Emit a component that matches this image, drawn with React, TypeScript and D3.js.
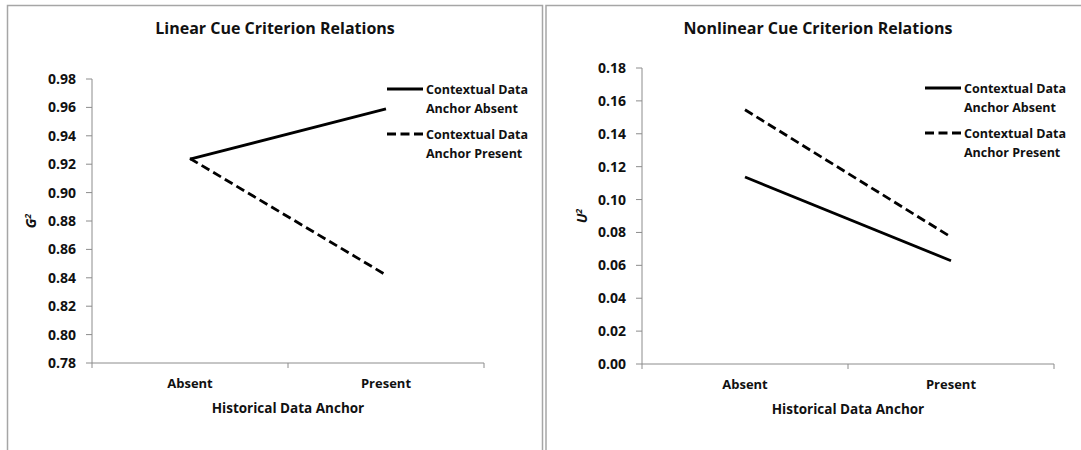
import * as d3 from 'd3';

const categories = ['Absent', 'Present'];
const seriesNames = ['Contextual Data Anchor Absent', 'Contextual Data Anchor Present'];

// linear panel (G²)
const linearAbsent = [0.9235, 0.959];
const linearPresent = [0.924, 0.842];
const linearTicks = [0.78, 0.80, 0.82, 0.84, 0.86, 0.88, 0.90, 0.92, 0.94, 0.96, 0.98];

// nonlinear panel (U²)
const nonlinearAbsent = [0.1137, 0.0628];
const nonlinearPresent = [0.1546, 0.0772];
const nonlinearTicks = [0, 0.02, 0.04, 0.06, 0.08, 0.10, 0.12, 0.14, 0.16, 0.18];

const FONT = '"Open Sans", Lato, sans-serif';
const DASH = '9,4.5';

interface PanelProps {
    x0: number;
    title: string;
    yLabel: string;
    ticks: number[];
    absent: number[];
    present: number[];
    plot: { left: number; right: number; top: number; bottom: number };
    legendX: number;
    legendY: number;
    titleX: number;
    yLabelX: number;
}

function Panel({ x0, title, yLabel, ticks, absent, present, plot, legendX, legendY, titleX, yLabelX }: PanelProps) {
    const xScale = d3.scaleBand<string>()
        .domain(categories)
        .range([plot.left, plot.right]);

    const yScale = d3.scaleLinear()
        .domain(d3.extent(ticks) as [number, number])
        .range([plot.bottom, plot.top]);

    const line = d3.line<number>()
        .x((_, i) => (xScale(categories[i]) as number) + xScale.bandwidth() / 2)
        .y(d => yScale(d));

    const catEdges = [plot.left, ...categories.map(c => (xScale(c) as number) + xScale.bandwidth())];

    return (
        <g transform={`translate(${x0},0)`}>
            <text x={titleX} y={34} textAnchor="middle" fontSize={16} fontWeight="bold" fill="#111">{title}</text>

            {/* y axis */}
            <line x1={plot.left} x2={plot.left} y1={plot.top} y2={plot.bottom} stroke="#8c8c8c" />
            {ticks.map(t => (
                <g key={t}>
                    <line x1={plot.left - 6} x2={plot.left} y1={yScale(t)} y2={yScale(t)} stroke="#8c8c8c" />
                    <text x={plot.left - 16} y={yScale(t)} dy="0.36em" textAnchor="end" fontSize={14} fontWeight="bold" fill="#111">
                        {t.toFixed(2)}
                    </text>
                </g>
            ))}
            <text transform={`translate(${yLabelX},${(plot.top + plot.bottom) / 2}) rotate(-90)`} textAnchor="middle" fontSize={14} fontWeight="bold" fontStyle="italic" fill="#111">
                {yLabel}<tspan fontSize={9} dy={-5}>2</tspan>
            </text>

            {/* x axis */}
            <line x1={plot.left} x2={plot.right} y1={plot.bottom} y2={plot.bottom} stroke="#8c8c8c" />
            {catEdges.map((e, i) => (
                <line key={i} x1={e} x2={e} y1={plot.bottom} y2={plot.bottom + 5} stroke="#8c8c8c" />
            ))}
            {categories.map(c => (
                <text key={c} x={(xScale(c) as number) + xScale.bandwidth() / 2} y={plot.bottom + 25} textAnchor="middle" fontSize={13} fontWeight="bold" fill="#111">{c}</text>
            ))}
            <text x={(plot.left + plot.right) / 2} y={plot.bottom + 50} textAnchor="middle" fontSize={13.5} fontWeight="bold" fill="#111">Historical Data Anchor</text>

            {/* series */}
            <path d={line(absent) as string} fill="none" stroke="#000" strokeWidth={2.8} />
            <path d={line(present) as string} fill="none" stroke="#000" strokeWidth={2.8} strokeDasharray={DASH} />

            {/* legend */}
            {seriesNames.map((name, i) => {
                const ly = legendY + i * 45;
                const words = name.split(' ');
                return (
                    <g key={name}>
                        <line x1={legendX} x2={legendX + 36} y1={ly} y2={ly} stroke="#000" strokeWidth={2.8} strokeDasharray={i === 1 ? DASH : undefined} />
                        <text x={legendX + 39} y={ly + 4.5} fontSize={12.5} fontWeight="bold" fill="#111">{words.slice(0, 2).join(' ')}</text>
                        <text x={legendX + 39} y={ly + 23.5} fontSize={12.5} fontWeight="bold" fill="#111">{words.slice(2).join(' ')}</text>
                    </g>
                );
            })}
        </g>
    );
}

export default function App() {
    return (
        <svg width={1081} height={450} style={{ position: 'absolute', left: 0, top: 0, background: '#fff', fontFamily: FONT }}>
            <rect x={0} y={0} width={1081} height={450} fill="#fff" />
            {/* panel frames */}
            <path d="M7.5,450 V5.5 H542.5 V450" fill="none" stroke="#a6a6a6" strokeWidth={1.5} />
            <path d="M546,450 V5.5 H1081" fill="none" stroke="#a6a6a6" strokeWidth={1.5} />

            <Panel
                x0={0}
                title="Linear Cue Criterion Relations"
                yLabel="G"
                ticks={linearTicks}
                absent={linearAbsent}
                present={linearPresent}
                plot={{ left: 92, right: 484, top: 79, bottom: 363 }}
                legendX={387}
                legendY={89}
                titleX={275}
                yLabelX={36}
            />
            <Panel
                x0={540}
                title="Nonlinear Cue Criterion Relations"
                yLabel="U"
                ticks={nonlinearTicks}
                absent={nonlinearAbsent}
                present={nonlinearPresent}
                plot={{ left: 102, right: 514, top: 68, bottom: 364 }}
                legendX={385}
                legendY={88}
                titleX={278}
                yLabelX={47}
            />
        </svg>
    );
}
